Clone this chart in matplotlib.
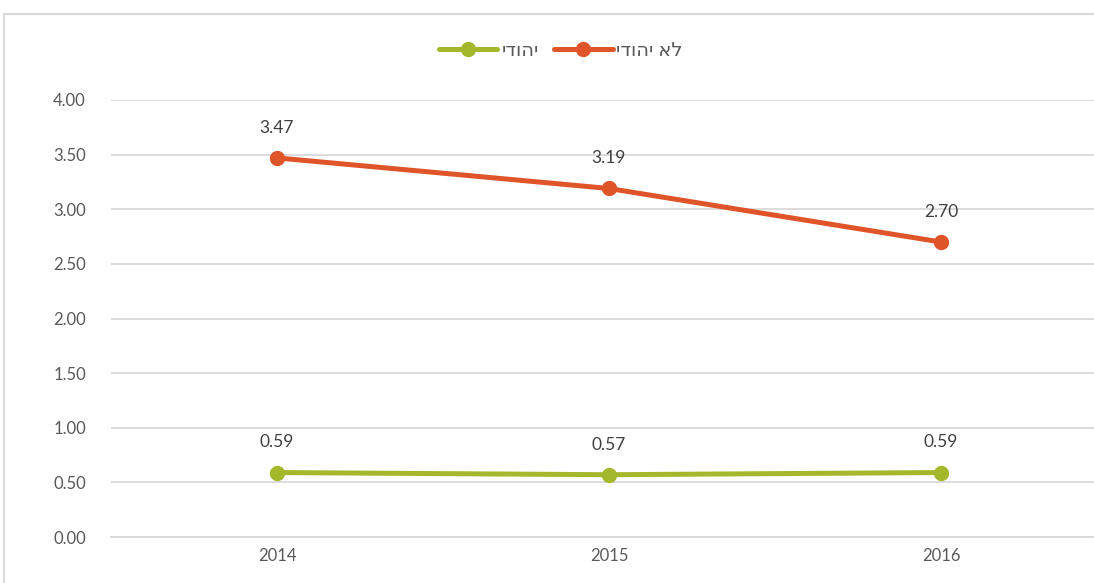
#!/usr/bin/env python3

import matplotlib
matplotlib.use("Agg")
import matplotlib.pyplot as plt
from matplotlib.patches import Rectangle

years = ["2014", "2015", "2016"]
jewish = [0.59, 0.57, 0.59]
non_jewish = [3.47, 3.19, 2.70]
series_names = ["יהודי", "לא יהודי"]
y_ticks = [0.0, 0.5, 1.0, 1.5, 2.0, 2.5, 3.0, 3.5, 4.0]

GREEN = "#A5B82B"
ORANGE = "#E0542A"
FONT = ["Lato", "DejaVu Sans"]


def rtl(s):
    # matplotlib has no bidi support, so flip Hebrew for display
    return s[::-1]


def main():
    plt.rcParams["font.family"] = FONT
    fig = plt.figure(figsize=(10.94, 5.83), dpi=100)

    W, H = 1094, 583
    left, right, top, bottom = 111, 1107, 100, 537
    ax = fig.add_axes([left / W, (H - bottom) / H, (right - left) / W, (bottom - top) / H])

    # chart frame
    fig.patches.append(Rectangle((4 / W, -0.1), 1.2, (H - 14) / H + 0.1,
                                 transform=fig.transFigure, fill=False,
                                 edgecolor="#D9D9D9", linewidth=1.5, clip_on=False))

    x = list(range(len(years)))
    ax.plot(x, jewish, color=GREEN, lw=3.6, marker="o", ms=10,
            solid_capstyle="round", label=rtl(series_names[0]), zorder=3)
    ax.plot(x, non_jewish, color=ORANGE, lw=3.6, marker="o", ms=10,
            solid_capstyle="round", label=rtl(series_names[1]), zorder=3)

    for vals in (jewish, non_jewish):
        for xi, v in zip(x, vals):
            ax.annotate(f"{v:.2f}", (xi, v), xytext=(0, 16), textcoords="offset points",
                        ha="center", va="bottom", fontsize=12.5, color="#404040")

    ax.set_xlim(-0.5, len(years) - 0.5)
    ax.set_ylim(0, 4)
    ax.set_yticks(y_ticks)
    ax.set_yticklabels([f"{t:.2f}" for t in y_ticks])
    ax.set_xticks(x)
    ax.set_xticklabels(years)
    ax.tick_params(length=0, labelsize=12, labelcolor="#595959")
    ax.tick_params(axis="y", pad=18)
    ax.tick_params(axis="x", pad=8)
    ax.grid(axis="y", color="#D9D9D9", lw=1.3)
    ax.set_axisbelow(True)
    for s in ax.spines.values():
        s.set_visible(False)
    ax.spines["bottom"].set_visible(True)
    ax.spines["bottom"].set_color("#D9D9D9")
    ax.spines["bottom"].set_linewidth(1.3)

    fig.legend(loc="center", bbox_to_anchor=(561 / W, 1 - 50 / H), ncol=2,
               frameon=False, fontsize=14, handlelength=3.0, columnspacing=0.8,
               handletextpad=0.2, labelcolor="#595959")

    fig.savefig("out.png", dpi=100)


if __name__ == "__main__":
    main()
